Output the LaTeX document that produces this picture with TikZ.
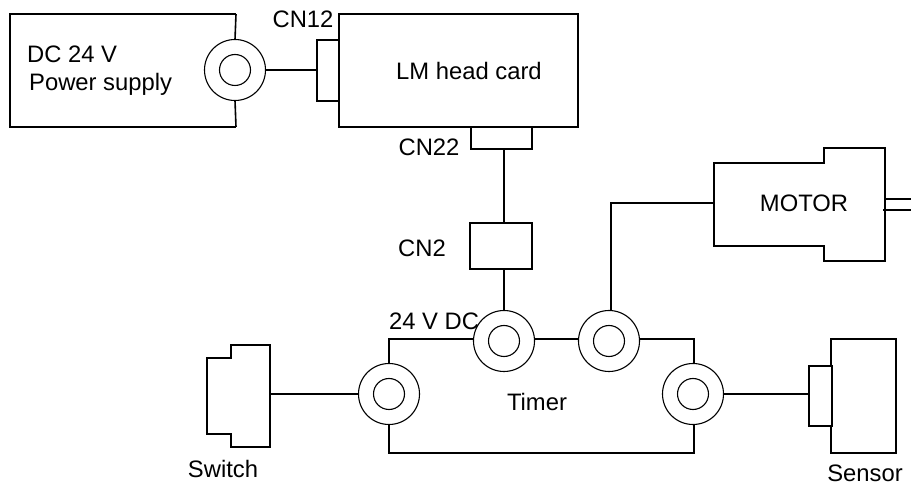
\documentclass[tikz,border=0pt]{standalone}
\usepackage{fontspec}
\setmainfont{Liberation Sans}
\tikzset{
	box/.style={draw,line width=1.6pt,inner sep=0pt,outer sep=0pt,fill=white},
	jack/.style={draw,circle,line width=1.1pt,fill=white,minimum size=61pt,inner sep=0pt,outer sep=0pt},
	jackin/.style={draw,circle,line width=1.1pt,minimum size=31pt,inner sep=0pt},
	wire/.style={line width=1.6pt},
	lbl/.style={inner sep=0pt,font=\fontsize{23.8}{28}\selectfont}
}
\begin{document}
\begin{tikzpicture}[x=1pt,y=-1pt,line join=miter]
	\useasboundingbox (0,0) rectangle (911,486);
	%bodies
	\draw[wire] (236,14)--(10,14)--(10,127)--(236,127);
	\coordinate (powertop) at (236,14);
	\coordinate (powerbot) at (236,127);
	\node[box,minimum width=239pt,minimum height=113pt] (card) at (458.5,70.5) {};
	\node[box,minimum width=22pt,minimum height=61pt] (cn12) at (328,70.5) {};
	\node[box,minimum width=61pt,minimum height=22pt] (cn22) at (501.5,138) {};
	\node[box,minimum width=62pt,minimum height=46pt] (cn2) at (501,246) {};
	\node[box,minimum width=305pt,minimum height=114pt] (timer) at (541.5,396) {};
	\node[box,minimum width=65pt,minimum height=114pt] (sensorbody) at (863.5,396) {};
	\node[box,minimum width=23pt,minimum height=60pt] (sensorcon) at (820.5,396) {};
	\draw[wire] (714,246)--(714,163)--(824,163)--(824,148)--(885,148)--(885,261)--(824,261)--(824,246)--cycle;
	\draw[wire] (207,358)--(231,358)--(231,345)--(270,345)--(270,447)--(231,447)--(231,434)--(207,434)--cycle;
	\coordinate (motorin) at (714,203);
	\coordinate (motorbend) at (611,203);
	\coordinate (switchout) at (270,394);
	%jacks
	\foreach \name/\xj/\yj in {jpower/235/70,jswitch/389/394,jcn/504/341,jmotor/609/341,jsensor/693/394}{
		\node[jack] (\name) at (\xj,\yj) {};
		\node[jackin] (\name in) at (\name) {};
	}
	%wires
	\draw[wire] (powertop)--(jpower.north);
	\draw[wire] (powerbot)--(jpower.south);
	\draw[wire] (jpower.east)--(jpower.east-|cn12.west);
	\draw[wire] (cn22.south-|jcn.north)--(cn2.north-|jcn.north);
	\draw[wire] (cn2.south-|jcn.north)--(jcn.north);
	\draw[wire] (jmotor.north-|motorbend)--(motorbend)--(motorin);
	\draw[wire] (switchout)--(jswitch.west);
	\draw[wire] (jsensor.east)--(jsensor.east-|sensorcon.west);
	\coordinate (shafta) at (911,199);
	\coordinate (shaftb) at (911,210);
	\draw[wire] (885,199)--(shafta);
	\draw[wire] (883,210)--(shaftb);
	%labels
	\node[lbl,anchor=west] (ldc) at (27,54) {DC 24 V};
	\node[lbl,anchor=west] (lps) at (29,84) {Power supply};
	\node[lbl] (lcard) at (469,71) {LM head card};
	\node[lbl] (lcn12) at (303,19) {CN12};
	\node[lbl] (lcn22) at (429,147) {CN22};
	\node[lbl] (lcn2) at (422,248) {CN2};
	\node[lbl] (lmotor) at (804,203) {MOTOR};
	\node[lbl] (ldcin) at (434,321) {24 V DC};
	\node[lbl] (ltimer) at (537,402) {Timer};
	\node[lbl] (lswitch) at (223,469) {Switch};
	\node[lbl] (lsensor) at (865,473) {Sensor};
\end{tikzpicture}
\end{document}
